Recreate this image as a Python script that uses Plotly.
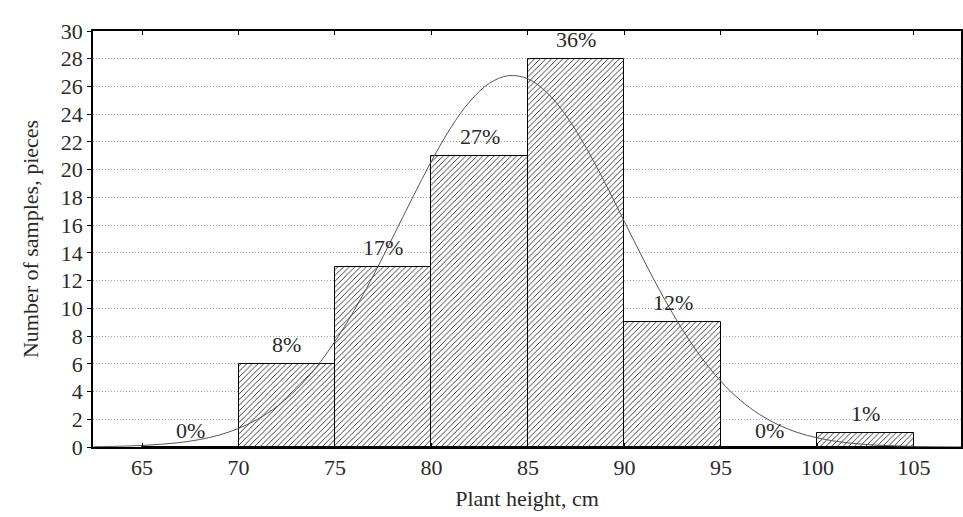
import plotly.graph_objects as go

# Histogram bins (class centers, cm) and counts
bin_centers = [67.5, 72.5, 77.5, 82.5, 87.5, 92.5, 97.5, 102.5]
counts = [0, 6, 13, 21, 28, 9, 0, 1]
pct_labels = ["0%", "8%", "17%", "27%", "36%", "12%", "0%", "1%"]

# Fitted normal curve
curve_x = [62.5, 63, 64, 65, 66, 67, 68, 69, 70, 71, 72, 73, 74, 75, 76, 77, 78, 79, 80,
           81, 82, 83, 84, 85, 86, 87, 88, 89, 90, 91, 92, 93, 94, 95, 96, 97, 98,
           99, 100, 101, 102, 103, 104, 105, 106, 107, 107.5]
curve_y = [0.02, 0.03, 0.06, 0.11, 0.20, 0.33, 0.54, 0.86, 1.34, 2.01, 2.93, 4.15, 5.71,
           7.62, 9.86, 12.40, 15.14, 17.93, 20.62, 23.02, 24.94, 26.23, 26.78, 26.55,
           25.54, 23.85, 21.62, 19.03, 16.25, 13.48, 10.85, 8.48, 6.43, 4.73, 3.38,
           2.35, 1.58, 1.03, 0.66, 0.40, 0.24, 0.14, 0.08, 0.04, 0.02, 0.01, 0.01]

x_ticks = [65, 70, 75, 80, 85, 90, 95, 100, 105]
y_ticks = list(range(0, 31, 2))

FONT = "Liberation Serif"
TXT = "#2a2a2a"

fig = go.Figure()
fig.add_trace(go.Bar(
    x=bin_centers, y=counts, width=5,
    marker=dict(color="white",
                line=dict(color="black", width=1),
                pattern=dict(shape="/", size=4.0, solidity=0.22,
                             fgcolor="#222222", bgcolor="white", fillmode="replace")),
    showlegend=False, hoverinfo="skip",
))
fig.add_trace(go.Scatter(
    x=curve_x, y=curve_y, mode="lines",
    line=dict(color="#555555", width=1, shape="spline"),
    showlegend=False, hoverinfo="skip",
))

for xc, c, t in zip(bin_centers, counts, pct_labels):
    fig.add_annotation(x=xc, y=c, text=t, showarrow=False,
                       yanchor="bottom", yshift=5 if c > 0 else 2,
                       font=dict(family=FONT, size=22, color=TXT))

fig.update_layout(
    width=963, height=517,
    margin=dict(l=93, r=2, t=31, b=70),
    paper_bgcolor="white", plot_bgcolor="white",
    font=dict(family=FONT, size=22, color=TXT),
    bargap=0,
)
fig.update_xaxes(
    range=[62.46, 107.44], tickvals=x_ticks, ticks="inside", ticklen=4,
    tickcolor="black", showline=True, linecolor="black", linewidth=1.5,
    mirror="ticks", showgrid=False, zeroline=False, automargin=False,
    tickfont=dict(family=FONT, size=22, color=TXT),
    title=dict(text="Plant height, cm", font=dict(family=FONT, size=22, color=TXT), standoff=11),
)
fig.update_yaxes(
    range=[0, 30], tickvals=y_ticks, ticks="outside", ticklen=4,
    tickcolor="black", showline=True, linecolor="black", linewidth=1.5,
    mirror="ticks", showgrid=True, gridcolor="#a5a5a5", griddash="1px,2px", gridwidth=1,
    zeroline=False, automargin=False,
    tickfont=dict(family=FONT, size=22, color=TXT),
    title=dict(text="Number of samples, pieces", font=dict(family=FONT, size=22, color=TXT), standoff=16),
)

fig.write_html("out.html",
               config={"displayModeBar": False},
               post_script="document.body.style.margin='0px';document.body.style.overflow='hidden';")
